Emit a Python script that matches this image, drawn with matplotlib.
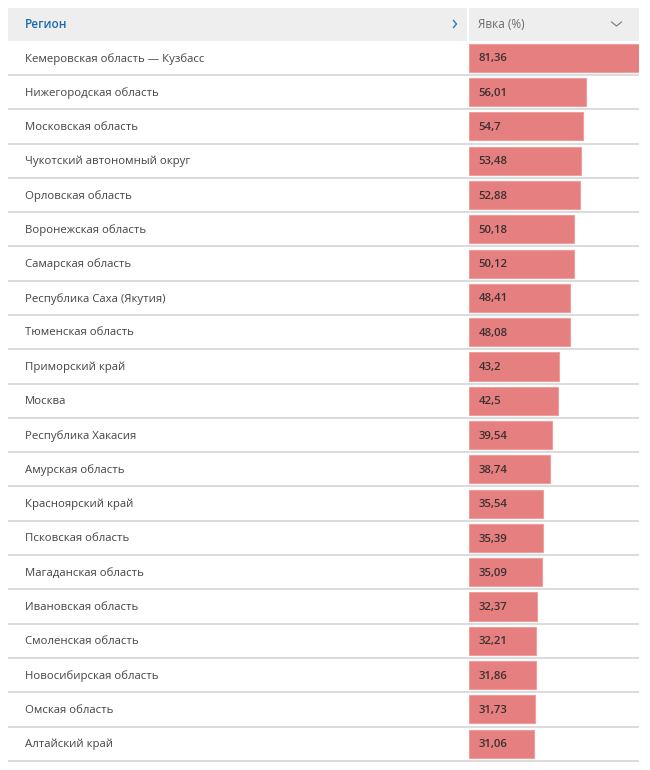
import numpy as np
import matplotlib.pyplot as plt
from matplotlib.patches import Rectangle

plt.rcParams['font.family'] = ['Open Sans', 'DejaVu Sans']

regions = ["Кемеровская область — Кузбасс", "Нижегородская область",
           "Московская область", "Чукотский автономный округ",
           "Орловская область", "Воронежская область", "Самарская область",
           "Республика Саха (Якутия)", "Тюменская область", "Приморский край",
           "Москва", "Республика Хакасия", "Амурская область",
           "Красноярский край", "Псковская область", "Магаданская область",
           "Ивановская область", "Смоленская область", "Новосибирская область",
           "Омская область", "Алтайский край"]
turnout = [81.36, 56.01, 54.7, 53.48, 52.88, 50.18, 50.12, 48.41, 48.08,
           43.2, 42.5, 39.54, 38.74, 35.54, 35.39, 35.09, 32.37, 32.21,
           31.86, 31.73, 31.06]

W, H = 650, 770
left, right = 8, 639
head_top, head_bot = 7.5, 40.7
pitch = 34.29
bar_x0 = 469.3
n = len(regions)

fig = plt.figure(figsize=(W/100, H/100), dpi=100)
ax = fig.add_axes([0, 0, 1, 1])
ax.set_xlim(0, W)
ax.set_ylim(H, 0)
ax.axis('off')

# header
ax.add_patch(Rectangle((left, head_top), right-left, head_bot-head_top,
                       color='#eeeeee', lw=0))
ax.plot([468.4, 468.4], [head_top, head_bot], color='white', lw=1.5)
ax.text(25, 24, "Регион", color='#1a6aaa', fontsize=8.5,
        fontweight='semibold', va='center')
ax.text(478, 24, "Явка (%)", color='#6b6b6b', fontsize=8.5, va='center')
ax.plot([453.5, 456.5, 453.5], [20.5, 24, 27.5], color='#2a78b8', lw=1.0)
ax.plot([611.5, 616.5, 621.5], [22, 26, 22], color='#777777', lw=0.8)

# rows
ys = head_bot + pitch*(np.arange(n) + 0.5)
for y, name in zip(ys, regions):
    ax.text(25, y + 0.8, name, color='#444444', fontsize=8.2, va='center')
ax.hlines(head_bot + pitch*np.arange(1, n+1), left, right,
          color='#d2d2d2', lw=1.1)

# bars
bx = fig.add_axes([bar_x0/W, 1 - (head_bot + pitch*n)/H,
                   (right - bar_x0)/W, pitch*n/H])
bx.barh(np.arange(n), turnout, height=0.82, left=0,
        color='#e67f7f', edgecolor='#f09d9d', lw=0.8)
bx.set_xlim(0, max(turnout))
bx.set_ylim(n - 0.5, -0.5)
bx.axis('off')
for i, v in enumerate(turnout):
    bx.annotate(str(v).replace('.', ','), (0, i), xytext=(6.5, -0.8),
                textcoords='offset points', va='center', ha='left',
                fontsize=8.2, fontweight='semibold', color='#3a3030')

fig.savefig('out.png', dpi=100)
